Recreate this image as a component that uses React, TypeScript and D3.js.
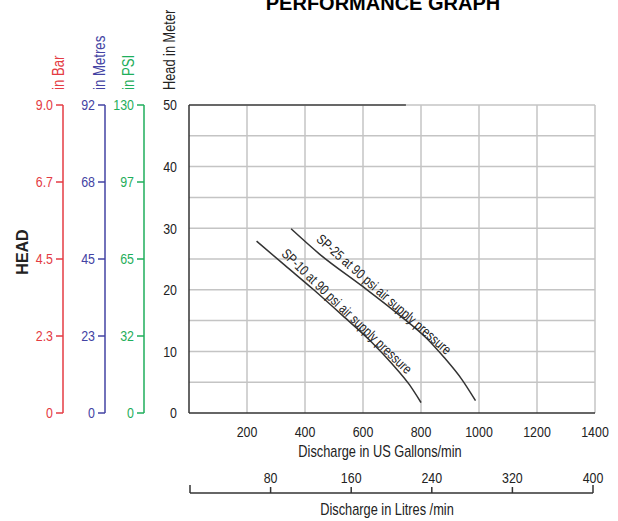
import * as d3 from 'd3';
import type { ReactNode } from 'react';

// head axis (metres) and discharge axes
const headTicks = [0, 10, 20, 30, 40, 50];
const headGrid = [5, 10, 15, 20, 25, 30, 35, 40, 45, 50];
const gpmTicks = [200, 400, 600, 800, 1000, 1200, 1400];
const lpmTicks = [80, 160, 240, 320, 400];

// secondary head scales, 5 evenly spaced ticks each
const barLabels = ['0', '2.3', '4.5', '6.7', '9.0'];
const metreLabels = ['0', '23', '45', '68', '92'];
const psiLabels = ['0', '32', '65', '97', '130'];

// performance curves: [US gal/min, head m]
const sp10: [number, number][] = [
  [233, 27.9], [330, 24], [430, 20], [530, 15.8], [630, 11.5], [700, 8], [760, 4.6], [800, 1.7],
];
const sp25: [number, number][] = [
  [352, 29.9], [450, 25.8], [600, 20.5], [720, 16.1], [820, 12.1], [880, 9], [940, 5.5], [988, 2],
];

const RED = '#e43b43';
const BLUE = '#4343a3';
const GREEN = '#1fae5b';
const SANS = '"Liberation Sans", Arial, sans-serif';
const SQUEEZE = 0.8; // the source uses a condensed face

// condensed text: regular face squeezed along its own baseline
function NText(props: {
  x: number;
  y: number;
  rotate?: number;
  anchor?: 'start' | 'middle' | 'end';
  size?: number;
  color?: string;
  dy?: string;
  children: ReactNode;
}) {
  const { x, y, rotate = 0, anchor = 'start', size = 15.5, color = '#222', dy } = props;
  return (
    <text
      transform={`translate(${x},${y}) rotate(${rotate}) scale(${SQUEEZE},1)`}
      textAnchor={anchor}
      fontSize={size}
      fontFamily={SANS}
      fill={color}
      dy={dy}
    >
      {props.children}
    </text>
  );
}

function App() {
  const W = 618;
  const H = 521;
  const plot = { left: 189, right: 595, top: 105, bottom: 413 };

  const x = d3.scaleLinear().domain([0, 1400]).range([plot.left, plot.right]);
  const y = d3.scaleLinear().domain([0, 50]).range([plot.bottom, plot.top]);
  const q = d3.scaleLinear().domain([0, 4]).range([plot.bottom, plot.top]);
  const xl = d3.scaleLinear().domain([0, 400]).range([190, 593]);

  const line = d3
    .line<[number, number]>()
    .x((d) => x(d[0]))
    .y((d) => y(d[1]))
    .curve(d3.curveMonotoneX);

  const sideAxis = (ax: number, labels: string[], color: string) => (
    <g>
      <line x1={ax} x2={ax} y1={plot.top} y2={plot.bottom} stroke={color} strokeWidth={1.5} />
      {labels.map((l, i) => (
        <g key={l}>
          <line x1={ax - 7} x2={ax} y1={q(i)} y2={q(i)} stroke={color} strokeWidth={1.5} />
          <NText x={ax - 10} y={q(i)} dy="0.35em" anchor="end" color={color}>
            {l}
          </NText>
        </g>
      ))}
    </g>
  );

  return (
    <svg
      width={W}
      height={H}
      style={{ position: 'absolute', left: 0, top: 0, background: '#fff' }}
    >
      <text x={383} y={10} textAnchor="middle" fontSize={20} fontWeight="bold" fontFamily={SANS} fill="#000">
        PERFORMANCE GRAPH
      </text>

      {/* grid */}
      {headGrid.map((v) => (
        <line key={'h' + v} x1={plot.left} x2={plot.right} y1={y(v)} y2={y(v)} stroke="#c4c4c4" strokeWidth={1.5} />
      ))}
      {gpmTicks.map((v) => (
        <line key={'v' + v} x1={x(v)} x2={x(v)} y1={plot.top} y2={plot.bottom} stroke="#c4c4c4" strokeWidth={1.5} />
      ))}
      <line x1={plot.left} x2={x(748)} y1={plot.top} y2={plot.top} stroke="#444" strokeWidth={1.5} />
      <line x1={plot.left} x2={plot.left} y1={plot.top} y2={plot.bottom} stroke="#333" strokeWidth={1.5} />
      <line x1={plot.left} x2={plot.right} y1={plot.bottom} y2={plot.bottom} stroke="#333" strokeWidth={1.5} />

      {/* curves */}
      <path d={line(sp10) ?? ''} fill="none" stroke="#333" strokeWidth={1.5} />
      <path d={line(sp25) ?? ''} fill="none" stroke="#333" strokeWidth={1.5} />
      <NText x={x(316)} y={y(25.7)} rotate={43.7} size={14}>
        SP-10 at 90 psi air supply pressure
      </NText>
      <NText x={x(436)} y={y(28.0)} rotate={41.3} size={14}>
        SP-25 at 90 psi air supply pressure
      </NText>

      {/* head in meter */}
      {headTicks.map((v) => (
        <NText key={'ht' + v} x={177} y={y(v)} dy="0.35em" anchor="end">
          {v}
        </NText>
      ))}

      {sideAxis(63, barLabels, RED)}
      {sideAxis(105, metreLabels, BLUE)}
      {sideAxis(144, psiLabels, GREEN)}

      <NText x={64} y={90} rotate={-90} size={16.5} color={RED}>in Bar</NText>
      <NText x={105} y={90} rotate={-90} size={16.5} color={BLUE}>in Metres</NText>
      <NText x={134} y={90} rotate={-90} size={16.5} color={GREEN}>in PSI</NText>
      <NText x={175} y={90} rotate={-90} size={16}>Head in Meter</NText>
      <text
        transform="translate(28,252) rotate(-90)"
        textAnchor="middle"
        fontSize={16}
        fontWeight="bold"
        fontFamily={SANS}
        fill="#222"
      >
        HEAD
      </text>

      {/* US gallons axis */}
      {gpmTicks.map((v) => (
        <NText key={'g' + v} x={x(v)} y={437} anchor="middle">
          {v}
        </NText>
      ))}
      <NText x={380} y={457} anchor="middle" size={16}>
        Discharge in US Gallons/min
      </NText>

      {/* litres axis */}
      <line x1={xl(0)} x2={xl(400)} y1={493} y2={493} stroke="#333" strokeWidth={1.5} />
      <line x1={xl(0)} x2={xl(0)} y1={485} y2={493} stroke="#333" strokeWidth={1.5} />
      {lpmTicks.map((v) => (
        <g key={'l' + v}>
          <line x1={xl(v)} x2={xl(v)} y1={v === 400 ? 485 : 487} y2={493} stroke="#333" strokeWidth={1.5} />
          <NText x={xl(v)} y={483} anchor="middle">
            {v}
          </NText>
        </g>
      ))}
      <NText x={387} y={515} anchor="middle" size={16}>
        Discharge in Litres /min
      </NText>
    </svg>
  );
}

export default App;
